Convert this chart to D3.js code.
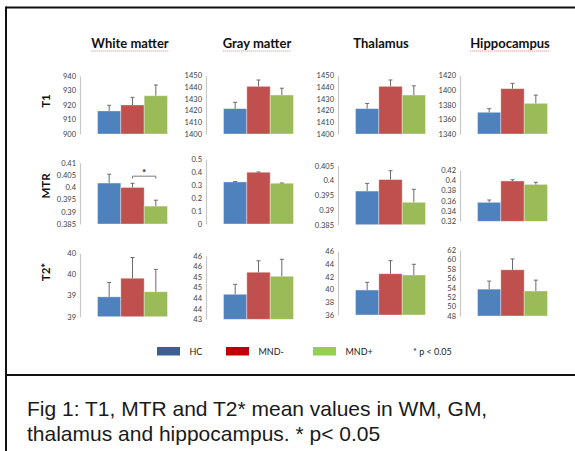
<!DOCTYPE html>
<html>
<head>
<meta charset="utf-8">
<script src="https://cdn.jsdelivr.net/npm/d3@7"></script>
<style>
  body { margin: 0; background: #fff; }
  svg { display: block; }
</style>
</head>
<body>
<svg id="chart" width="575" height="451"></svg>
<script>
// Data
const regions = ["White matter", "Gray matter", "Thalamus", "Hippocampus"];
const measures = ["T1", "MTR", "T2*"];
const groups = ["HC", "MND-", "MND+"];

// means[col][group], upper error ends in the same shape
const t1Means = [[915.9, 920.0, 926.4], [1421.6, 1440.6, 1433.2], [1421.6, 1440.6, 1433.2], [1369.6, 1401.8, 1381.8]];
const t1ErrTop = [[919.8, 925.3, 933.8], [1427, 1446, 1439], [1426, 1446, 1441], [1374.5, 1409, 1393]];
const mtrMeans = [[0.4017, 0.3999, 0.3923], [0.325, 0.400, 0.315], [0.3964, 0.4003, 0.3926], [0.357, 0.3986, 0.392]];
const mtrErrTop = [[0.4053, 0.4016, 0.3947], [0.328, 0.402, 0.317], [0.399, 0.4033, 0.397], [0.3615, 0.401, 0.396]];
const t2Means = [[38.97, 39.41, 39.09], [44.18, 45.22, 45.03], [39.92, 42.48, 42.28], [53.7, 57.8, 53.3]];
const t2ErrTop = [[39.31, 39.9, 39.62], [44.65, 45.76, 45.83], [41.13, 44.53, 43.96], [55.4, 60.1, 55.6]];

// tick values and the labels shown for them
const t1Ticks = [[900, 910, 920, 930, 940], [1400, 1410, 1420, 1430, 1440, 1450], [1400, 1410, 1420, 1430, 1440, 1450], [1340, 1360, 1380, 1400, 1420]];
const t1TickLabels = [["900", "910", "920", "930", "940"], ["1400", "1410", "1420", "1430", "1440", "1450"], ["1400", "1410", "1420", "1430", "1440", "1450"], ["1340", "1360", "1380", "1400", "1420"]];
const mtrTicks = [[0.385, 0.39, 0.395, 0.4, 0.405, 0.41], [0, 0.1, 0.2, 0.3, 0.4, 0.5], [0.385, 0.39, 0.395, 0.4, 0.405], [0.32, 0.34, 0.36, 0.38, 0.4, 0.42]];
const mtrTickLabels = [["0.385", "0.39", "0.395", "0.4", "0.405", "0.41"], ["0", "0.1", "0.2", "0.3", "0.4", "0.5"], ["0.385", "0.39", "0.395", "0.4", "0.405"], ["0.32", "0.34", "0.36", "0.38", "0.4", "0.42"]];
const t2Ticks = [[38.5, 39, 39.5, 40], [43, 43.5, 44, 44.5, 45, 45.5, 46], [36, 38, 40, 42, 44, 46], [48, 50, 52, 54, 56, 58, 60, 62]];
const t2TickLabels = [["39", "39", "40", "40"], ["43", "44", "44", "45", "45", "46", "46"], ["36", "38", "40", "42", "44", "46"], ["48", "50", "52", "54", "56", "58", "60", "62"]];

// significant pairs: row, column, the two groups, bracket height
const sigMarks = [{ row: 1, col: 0, from: "MND-", to: "MND+", at: 0.4045, label: "*" }];

const legendLabels = ["HC", "MND-", "MND+"];
const legendNote = "* p < 0.05";
const captionLines = ["Fig 1: T1, MTR and T2* mean values in WM, GM,", "thalamus and hippocampus. * p< 0.05"];

const means = [t1Means, mtrMeans, t2Means];
const errTop = [t1ErrTop, mtrErrTop, t2ErrTop];
const ticks = [t1Ticks, mtrTicks, t2Ticks];
const tickLabels = [t1TickLabels, mtrTickLabels, t2TickLabels];

// layout
const barColor = d3.scaleOrdinal().domain(groups).range(["#4F81BD", "#C0504D", "#9BBB59"]);
const legendColor = d3.scaleOrdinal().domain(groups).range(["#3A5F91", "#C00000", "#92D050"]);
const axisX = [80, 206, 338, 460];
const titleX = [130, 257, 381, 510];
const rowLabelY = [101, 186, 272];
// vertical pixel range [top, bottom] of each panel
const panelY = [
  [[76, 134], [75.3, 134], [75.3, 134], [75.3, 134]],
  [[162.7, 224], [159.3, 224], [165.7, 224.7], [170, 221.3]],
  [[253.3, 316.7], [255.7, 319.3], [251.3, 315], [250, 316]]
];

const svg = d3.select("#chart");
const chartFont = "Lato, 'Open Sans', sans-serif";

// frame
svg.append("line").attr("x1", 6).attr("x2", 575).attr("y1", 7.5).attr("y2", 7.5)
  .attr("stroke", "#111").attr("stroke-width", 2);
svg.append("line").attr("x1", 6).attr("x2", 6).attr("y1", 6.5).attr("y2", 451)
  .attr("stroke", "#111").attr("stroke-width", 2);
svg.append("line").attr("x1", 6).attr("x2", 575).attr("y1", 375).attr("y2", 375)
  .attr("stroke", "#111").attr("stroke-width", 2);

// column titles
regions.forEach((r, c) => {
  const t = svg.append("text")
    .attr("x", titleX[c]).attr("y", 48)
    .attr("text-anchor", "middle")
    .style("font-family", chartFont).style("font-weight", "bold").style("font-size", "13px")
    .attr("fill", "#111")
    .text(r);
  if (r !== "Thalamus") {
    const w = t.node().getComputedTextLength();
    svg.append("line")
      .attr("x1", titleX[c] - w / 2).attr("x2", titleX[c] + w / 2)
      .attr("y1", 51).attr("y2", 51)
      .attr("stroke", "#e06060").attr("stroke-width", 0.8).attr("stroke-dasharray", "1,1");
  }
});

// row labels
measures.forEach((m, r) => {
  svg.append("text")
    .attr("transform", `translate(50,${rowLabelY[r]}) rotate(-90)`)
    .attr("text-anchor", "middle")
    .style("font-family", chartFont).style("font-weight", "bold").style("font-size", "11.5px")
    .attr("fill", "#111")
    .text(m);
});

// panels
measures.forEach((m, r) => {
  regions.forEach((reg, c) => {
    const tv = ticks[r][c];
    const y = d3.scaleLinear().domain(d3.extent(tv)).range([panelY[r][c][1], panelY[r][c][0]]);
    const x = d3.scaleBand().domain(groups).range([axisX[c] + 17.5, axisX[c] + 87.5]).padding(0);
    const g = svg.append("g");

    const labels = tickLabels[r][c];
    const axis = d3.axisLeft(y).tickValues(tv).tickSize(0).tickPadding(4)
      .tickFormat((d, i) => labels[i]);
    const ax = g.append("g").attr("transform", `translate(${axisX[c]},0)`).call(axis);
    ax.select(".domain").attr("stroke", "#C8C8C8").attr("stroke-width", 1.2);
    ax.selectAll("text").attr("fill", "#404040")
      .style("font-family", chartFont).style("font-size", "7.5px");

    const vals = means[r][c];
    const errs = errTop[r][c];
    const base = y.domain()[0];

    g.selectAll("rect").data(groups).join("rect")
      .attr("x", d => x(d))
      .attr("width", x.bandwidth())
      .attr("y", (d, i) => y(vals[i]))
      .attr("height", (d, i) => y(base) - y(vals[i]))
      .attr("fill", d => barColor(d))
      .attr("stroke", "rgba(255,255,255,0.45)").attr("stroke-width", 0.8);

    const cx = d => x(d) + x.bandwidth() / 2;
    g.selectAll("line.err").data(groups).join("line").attr("class", "err")
      .attr("x1", cx).attr("x2", cx)
      .attr("y1", (d, i) => y(vals[i])).attr("y2", (d, i) => y(errs[i]))
      .attr("stroke", "#6b6b6b").attr("stroke-width", 1);
    g.selectAll("line.cap").data(groups).join("line").attr("class", "cap")
      .attr("x1", d => cx(d) - 2).attr("x2", d => cx(d) + 2)
      .attr("y1", (d, i) => y(errs[i])).attr("y2", (d, i) => y(errs[i]))
      .attr("stroke", "#6b6b6b").attr("stroke-width", 1);

    sigMarks.filter(s => s.row === r && s.col === c).forEach(s => {
      const x1 = cx(s.from), x2 = cx(s.to), yy = y(s.at);
      g.append("path")
        .attr("d", `M${x1},${yy + 2.5}V${yy}H${x2}V${yy + 2.5}`)
        .attr("fill", "none").attr("stroke", "#7a7a7a").attr("stroke-width", 1);
      g.append("text")
        .attr("x", (x1 + x2) / 2).attr("y", yy - 0.5)
        .attr("text-anchor", "middle")
        .style("font-family", chartFont).style("font-size", "10px").style("font-weight", "bold")
        .attr("fill", "#222")
        .text(s.label);
    });
  });
});

// legend
const legX = [157, 226, 313];
const legend = svg.append("g");
legendLabels.forEach((l, i) => {
  legend.append("rect")
    .attr("x", legX[i]).attr("y", 347).attr("width", 23).attr("height", 8.5)
    .attr("fill", legendColor(groups[i]));
  legend.append("text")
    .attr("x", legX[i] + 32.5).attr("y", 354.5)
    .style("font-family", chartFont).style("font-size", "9px")
    .attr("fill", "#222")
    .text(l);
});
legend.append("text")
  .attr("x", 413).attr("y", 354.5)
  .style("font-family", chartFont).style("font-size", "9px")
  .attr("fill", "#222")
  .text(legendNote);

// caption
captionLines.forEach((line, i) => {
  svg.append("text")
    .attr("x", 27).attr("y", 416 + i * 25)
    .style("font-family", "'Liberation Sans', Arial, sans-serif").style("font-size", "21px")
    .attr("fill", "#1a1a1a")
    .text(line);
});
</script>
</body>
</html>
